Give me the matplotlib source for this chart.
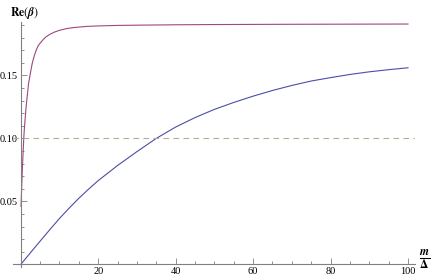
import matplotlib
matplotlib.use("Agg")
import matplotlib.pyplot as plt
from matplotlib.ticker import MultipleLocator, FixedLocator

plt.rcParams['mathtext.fontset'] = 'stix'

# lower curve (blue)
x_low = [0, 2.5, 5, 7.5, 10, 12.5, 15, 17.5, 20, 25, 30, 35, 40, 45, 50, 55, 60,
         65, 70, 75, 80, 85, 90, 95, 100]
y_low = [0, 0.0093, 0.0185, 0.0276, 0.0365, 0.0447, 0.0525, 0.0597, 0.0665, 0.0785,
         0.0895, 0.1000, 0.1090, 0.1165, 0.1230, 0.1285, 0.1335, 0.1380, 0.1420,
         0.1455, 0.1482, 0.1507, 0.1528, 0.1545, 0.1560]

# upper curve (red)
x_up = [0.08, 0.15, 0.25, 0.35, 0.45, 0.6, 0.78, 0.9, 1.1, 1.3, 1.55, 1.8, 2.0, 2.5,
        3.0, 3.5, 4.0, 4.5, 5.0, 5.7, 6.5, 7.5, 8.7, 10, 12, 14, 17, 20, 25, 30, 40,
        50, 70, 100]
y_up = [0.046, 0.053, 0.062, 0.070, 0.078, 0.088, 0.100, 0.106, 0.114, 0.122, 0.130,
        0.137, 0.143, 0.152, 0.160, 0.1655, 0.170, 0.1735, 0.1755, 0.178, 0.1805,
        0.1825, 0.1843, 0.1857, 0.1872, 0.188, 0.1888, 0.1892, 0.1896, 0.1898,
        0.1901, 0.1903, 0.1905, 0.1907]

ref_level = 0.10

axis_col = '#808080'
fig = plt.figure(figsize=(4.36, 2.79), dpi=100)
ax = fig.add_axes([0.0298, 0.043, 0.922, 0.879])

ax.plot(x_low, y_low, color=(0.3, 0.3, 0.65), lw=0.8)
ax.plot(x_up, y_up, color=(0.62, 0.28, 0.5), lw=0.8)
ax.axhline(ref_level, color='#b5ad90', lw=0.8, dashes=(5, 4))

ax.set_xlim(-2, 101.8)
ax.set_ylim(-0.002, 0.1925)

for s in ['top', 'right']:
    ax.spines[s].set_visible(False)
ax.spines['left'].set_position(('data', 0))
ax.spines['bottom'].set_position(('data', 0))
ax.spines['left'].set_color(axis_col)
ax.spines['bottom'].set_color(axis_col)
ax.spines['left'].set_linewidth(0.8)
ax.spines['bottom'].set_linewidth(0.8)

ax.xaxis.set_major_locator(FixedLocator([20, 40, 60, 80, 100]))
ax.xaxis.set_minor_locator(MultipleLocator(5))
ax.yaxis.set_major_locator(FixedLocator([0.05, 0.10, 0.15]))
ax.yaxis.set_minor_locator(MultipleLocator(0.01))
ax.set_yticklabels(['0.05', '0.10', '0.15'])
ax.set_xticklabels(['20', '40', '60', '80', '100'])

ax.tick_params(which='both', direction='in', colors=axis_col, labelcolor='black',
               labelsize=7.5, width=0.6)
ax.tick_params(which='major', length=4, pad=2)
ax.tick_params(which='minor', length=2.5)
for lab in ax.get_xticklabels() + ax.get_yticklabels():
    lab.set_family('Liberation Serif')

fig.text(0.057, 0.953, r'$\mathbf{Re}(\boldsymbol{\beta})$', ha='center', va='center',
         fontsize=8.5)
fig.text(0.975, 0.068, r'$\frac{\boldsymbol{m}}{\mathbf{\Delta}}$', ha='center',
         va='center', fontsize=12)

fig.savefig('out.png', dpi=100)
